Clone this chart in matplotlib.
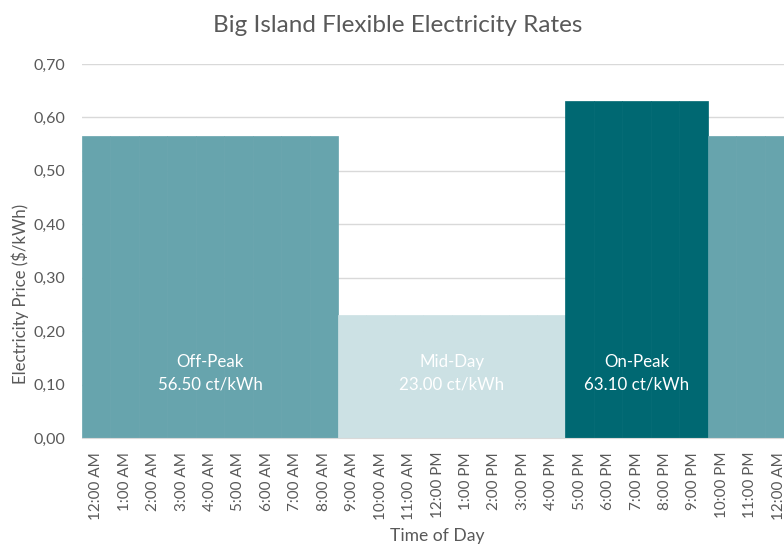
import matplotlib
matplotlib.use('Agg')
import matplotlib.pyplot as plt
import numpy as np

# hourly prices ($/kWh), 12:00 AM through 12:00 AM next day
hour_labels = ['12:00 AM', '1:00 AM', '2:00 AM', '3:00 AM', '4:00 AM', '5:00 AM',
               '6:00 AM', '7:00 AM', '8:00 AM', '9:00 AM', '10:00 AM', '11:00 AM',
               '12:00 PM', '1:00 PM', '2:00 PM', '3:00 PM', '4:00 PM', '5:00 PM',
               '6:00 PM', '7:00 PM', '8:00 PM', '9:00 PM', '10:00 PM', '11:00 PM',
               '12:00 AM']
periods = ['off'] * 9 + ['mid'] * 8 + ['on'] * 5 + ['off'] * 3
rates = {'off': 0.565, 'mid': 0.23, 'on': 0.631}
period_names = {'off': 'Off-Peak', 'mid': 'Mid-Day', 'on': 'On-Peak'}
colors = {'off': '#67a4ad', 'mid': '#cce1e4', 'on': '#006872'}

prices = [rates[p] for p in periods]

plt.rcParams['font.family'] = ['Lato', 'DejaVu Sans']
text_grey = '#595959'

fig = plt.figure(figsize=(7.84, 5.45), dpi=100)
# axes runs past the right edge, as in the reference crop
ax = fig.add_axes([82 / 784, 107 / 545, 711 / 784, 374 / 545])

x = np.arange(len(hour_labels))
bar_colors = [colors[p] for p in periods]
ax.bar(x, prices, width=1.0, color=bar_colors, edgecolor=bar_colors, linewidth=0.5, zorder=2)

# labels centred on each contiguous block
start = 0
for i in range(1, len(periods) + 1):
    if i == len(periods) or periods[i] != periods[start]:
        p = periods[start]
        if i - start > 3:
            cx = (start + i - 1) / 2
            ax.text(cx, 0.121, f'{period_names[p]}\n{rates[p] * 100:.2f} ct/kWh',
                    ha='center', va='center', color='white', fontsize=12.2,
                    linespacing=1.45, zorder=3)
        start = i

ax.set_xlim(-0.5, len(x) - 0.5)
ax.set_ylim(0, 0.70)
ax.set_yticks(np.arange(0, 0.71, 0.1))
ax.set_yticklabels([f'{v:.2f}'.replace('.', ',') for v in np.arange(0, 0.71, 0.1)])
ax.set_xticks(x)
ax.set_xticklabels(hour_labels, rotation=90)
ax.tick_params(axis='y', length=0, colors=text_grey, labelsize=11.5, pad=12)
ax.tick_params(axis='x', length=0, colors=text_grey, labelsize=11, pad=10)
ax.grid(axis='y', color='#d9d9d9', linewidth=1, zorder=0)
ax.set_axisbelow(True)
for s in ['top', 'right', 'left']:
    ax.spines[s].set_visible(False)
ax.spines['bottom'].set_color('#d9d9d9')

fig.text(20 / 784, 251 / 545, 'Electricity Price ($/kWh)', rotation=90, ha='center',
         va='center', color=text_grey, fontsize=12.1)
fig.text(437 / 784, 9 / 545, 'Time of Day', ha='center', va='center',
         color=text_grey, fontsize=12.6)
fig.text(398 / 784, 1 - 26 / 545, 'Big Island Flexible Electricity Rates', ha='center',
         va='center', color=text_grey, fontsize=17.5)

fig.savefig('out.png', dpi=100)
